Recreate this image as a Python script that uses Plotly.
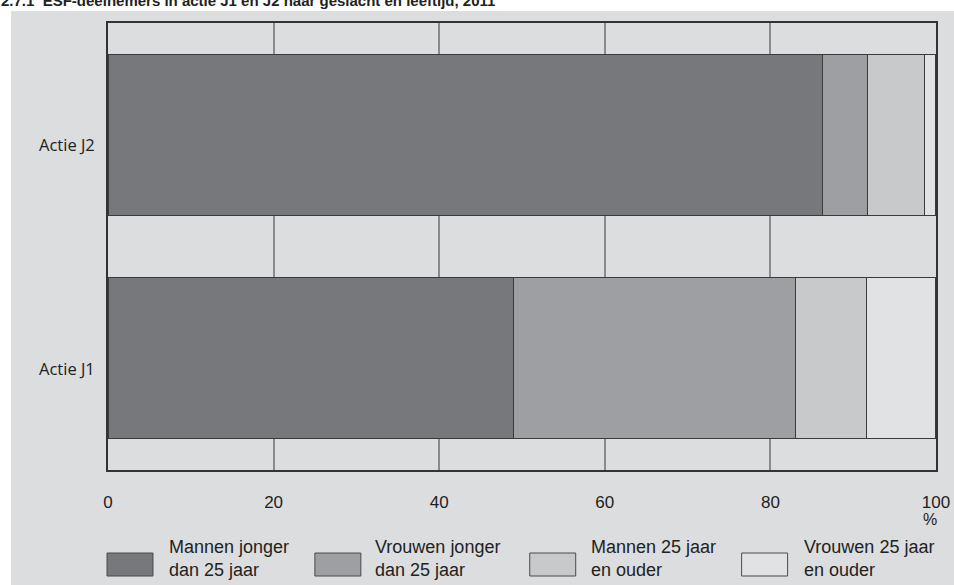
import plotly.graph_objects as go

categories = ["Actie J1", "Actie J2"]
series_names = ["Mannen jonger<br>dan 25 jaar", "Vrouwen jonger<br>dan 25 jaar",
                "Mannen 25 jaar<br>en ouder", "Vrouwen 25 jaar<br>en ouder"]
mannen_jong = [49.0, 86.3]
vrouwen_jong = [34.0, 5.4]
mannen_oud = [8.6, 6.9]
vrouwen_oud = [8.4, 1.4]
tick_values = [0, 20, 40, 60, 80, 100]
tick_labels = ["0", "20", "40", "60", "80", "100"]
title_text = "2.7.1  ESF-deelnemers in actie J1 en J2 naar geslacht en leeftijd, 2011"

colors = ["#77787c", "#9e9fa3", "#c8c9cb", "#e1e2e4"]
bg = "#dcdddf"
W, H = 954, 585
L, R, T, B = 108, 17.5, 23, 115

series = [mannen_jong, vrouwen_jong, mannen_oud, vrouwen_oud]

fig = go.Figure()
for name, vals, col in zip(series_names, series, colors):
    fig.add_trace(go.Bar(
        y=categories, x=vals, name=name, orientation="h",
        marker=dict(color=col, line=dict(color="#3a3a3c", width=1.2)),
        width=0.72, showlegend=False, hoverinfo="x+name"))

pw = W - L - R
ph = H - T - B

def px_x(p):
    return (p - L) / pw

def px_y(p):
    return 1 - (p - T) / ph

shapes = []
# gray background panel
shapes.append(dict(type="rect", xref="paper", yref="paper",
                   x0=px_x(11), x1=px_x(960), y0=px_y(11), y1=px_y(590),
                   fillcolor=bg, line=dict(width=0), layer="below"))
annotations = []
# legend boxes + text
box_x = [107, 315, 530, 742]
text_x = [167, 373, 589, 802]
for i, (name, col) in enumerate(zip(series_names, colors)):
    shapes.append(dict(type="rect", xref="paper", yref="paper",
                       x0=px_x(box_x[i]), x1=px_x(box_x[i] + 46),
                       y0=px_y(553), y1=px_y(576),
                       fillcolor=col, line=dict(color="#4a4a4c", width=1)))
    annotations.append(dict(xref="paper", yref="paper", x=px_x(text_x[i]), y=px_y(558),
                            text=name, showarrow=False, xanchor="left", yanchor="middle",
                            align="left",
                            font=dict(family="Liberation Sans, Arial", size=18, color="#222")))
# category labels
for c in categories:
    annotations.append(dict(xref="paper", yref="y", x=0, y=c, text=c, showarrow=False,
                            xanchor="right", yanchor="middle", xshift=-11, yshift=-10,
                            font=dict(family="Open Sans, Liberation Sans", size=16.5, color="#222")))
# percent sign
annotations.append(dict(xref="x", yref="paper", x=100, y=px_y(519), text="%", showarrow=False,
                        xanchor="center", yanchor="middle", xshift=-6,
                        font=dict(family="Liberation Sans, Arial", size=16, color="#222")))
# title (clipped at top like the reference)
annotations.append(dict(xref="paper", yref="paper", x=px_x(-1), y=px_y(0), text="<b>" + title_text + "</b>",
                        showarrow=False, xanchor="left", yanchor="middle",
                        font=dict(family="Liberation Sans, Arial", size=15, color="#222")))

fig.update_layout(
    width=W, height=H, autosize=False,
    margin=dict(l=L, r=R, t=T, b=B, pad=0, autoexpand=False),
    paper_bgcolor="white", plot_bgcolor="white",
    barmode="stack", bargap=0.28,
    shapes=shapes, annotations=annotations,
    xaxis=dict(range=[0, 100], tickvals=tick_values, ticktext=tick_labels,
               automargin=False,
               showgrid=True, gridcolor="#8a8a8c", gridwidth=1.5,
               showline=True, linecolor="#333", linewidth=1.5, mirror=True,
               ticks="outside", ticklen=16, tickcolor="rgba(0,0,0,0)",
               tickfont=dict(family="Liberation Sans, Arial", size=17, color="#222"),
               zeroline=False, fixedrange=True),
    yaxis=dict(categoryorder="array", categoryarray=categories,
               automargin=False,
               showticklabels=False, showgrid=False,
               showline=True, linecolor="#333", linewidth=1.5, mirror=True,
               zeroline=False, fixedrange=True),
)

fig.write_html("out.html", config={"displayModeBar": False, "responsive": False},
               post_script="document.body.style.margin='0';document.body.style.overflow='hidden';")
